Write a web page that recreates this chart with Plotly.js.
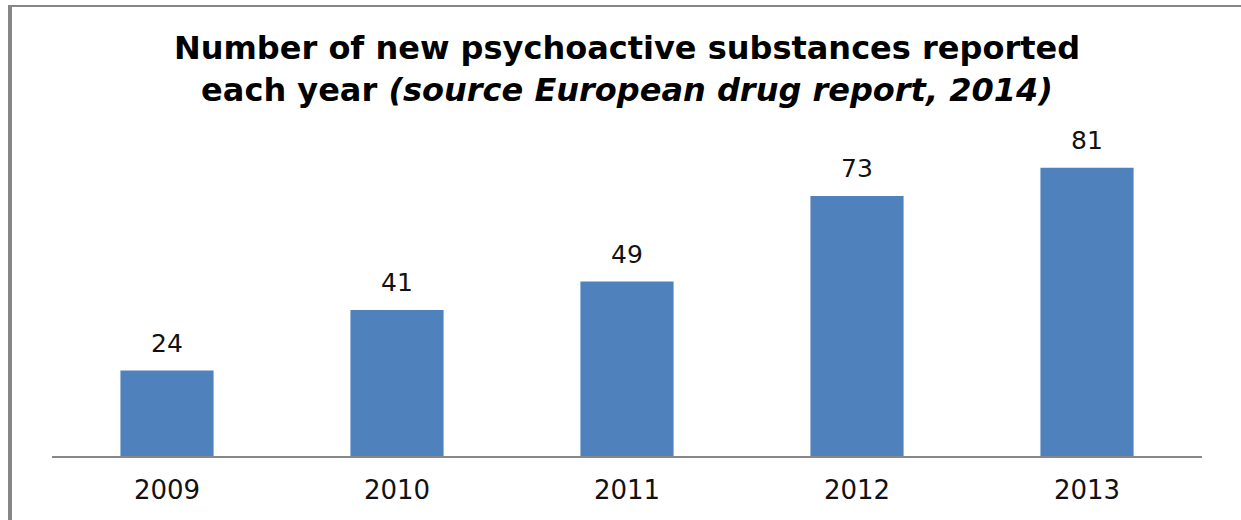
<!DOCTYPE html>
<html>
<head>
<meta charset="utf-8">
<script src="https://cdn.plot.ly/plotly-3.0.1.min.js"></script>
<style>
  html, body { margin: 0; padding: 0; background: #ffffff; }
  #frame { position: absolute; left: 8px; top: 5px; width: 1233px; height: 515px;
           border-left: 4px solid #878787; border-top: 2px solid #878787; box-sizing: border-box; }
  #chart { position: absolute; left: 0; top: 0; width: 1241px; height: 520px; }
</style>
</head>
<body>
<div id="frame"></div>
<div id="chart"></div>
<script>
const years = ['2009', '2010', '2011', '2012', '2013'];
const counts = [24, 41, 49, 73, 81];
const titleLine1 = 'Number of new psychoactive substances reported';
const titleLine2 = 'each year <i>(source European drug report, 2014)</i>';

const trace = {
  type: 'bar',
  x: years,
  y: counts,
  marker: { color: '#4F81BD' },
  hoverinfo: 'none'
};

const annotations = years.map((yr, i) => ({
  x: i, y: counts[i], xref: 'x', yref: 'y',
  text: String(counts[i]), showarrow: false,
  yanchor: 'bottom', yshift: 11,
  font: { family: 'DejaVu Sans', size: 25, color: '#111111' }
}));

const layout = {
  width: 1241, height: 520,
  margin: { l: 52, r: 39, t: 100, b: 64 },
  paper_bgcolor: 'rgba(0,0,0,0)',
  plot_bgcolor: 'rgba(0,0,0,0)',
  bargap: 0.595,
  showlegend: false,
  title: {
    text: '<b>' + titleLine1 + '<br>' + titleLine2 + '</b>',
    font: { family: 'DejaVu Sans', size: 32, color: '#000000' },
    x: 0.5, xref: 'paper', xanchor: 'center',
    y: 1 - 59 / 520, yref: 'container', yanchor: 'top'
  },
  xaxis: {
    type: 'category',
    range: [-0.5, years.length - 0.5],
    showline: true, linecolor: '#878787', linewidth: 2,
    ticks: '', showgrid: false, zeroline: false,
    ticklabelstandoff: 10,
    tickfont: { family: 'DejaVu Sans', size: 26, color: '#111111' }
  },
  yaxis: {
    range: [0, 100], visible: false, showgrid: false, zeroline: false
  },
  annotations: annotations
};

Plotly.newPlot('chart', [trace], layout, { displayModeBar: false, staticPlot: true });
</script>
</body>
</html>
